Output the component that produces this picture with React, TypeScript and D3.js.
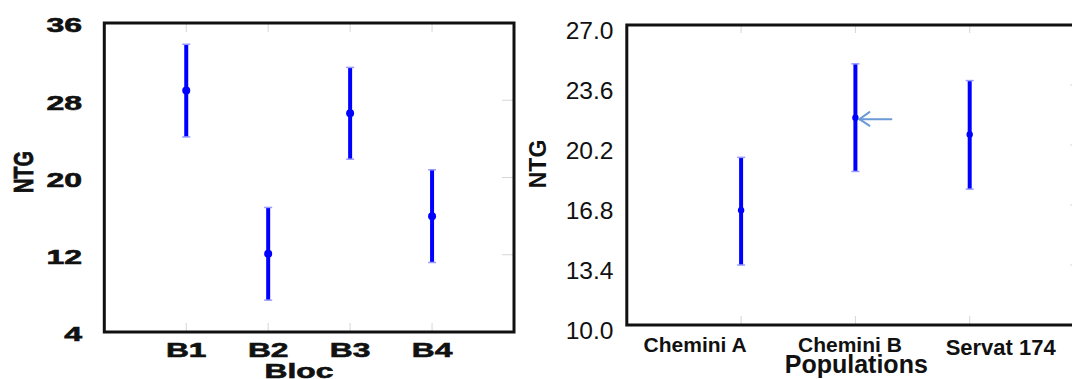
import React from "react";
import * as d3 from "d3";

// ---- data ----
const blocCategories = ["B1", "B2", "B3", "B4"];
const blocMeans = [29.0, 12.1, 26.65, 16.0];
const blocLower = [24.2, 7.3, 21.9, 11.2];
const blocUpper = [33.8, 16.9, 31.4, 20.8];
const blocTicks = [4, 12, 20, 28, 36];

const popCategories = ["Chemini A", "Chemini B", "Servat 174"];
const popMeans = [16.5, 21.75, 20.8];
const popLower = [13.4, 18.7, 17.7];
const popUpper = [19.5, 24.8, 23.85];
const popTicks = [10.0, 13.4, 16.8, 20.2, 23.6, 27.0];

// ---- layout ----
const W = 1072;
const H = 379;
const LB = { left: 104.3, right: 514, top: 23, bottom: 332 };
const RB = { left: 626.8, right: 1084, top: 25, bottom: 325 };
const popLabelDx = [-46, -5.5, 31];
const popLabelBase = [351.7, 351.7, 354.6];
const popLabelSize = [21, 21, 22];

const FONT = "'Liberation Sans', Arial, sans-serif";
const BLUE = "#0000ff";
const CAP = "#9a9aff";
const GRID = "#d6d6d6";
const INK = "#111";

export default function App() {
  const xL = d3.scaleLinear().domain([0, 5]).range([LB.left, LB.right]);
  const yL = d3.scaleLinear().domain([4, 36]).range([LB.bottom, LB.top]);
  const xR = d3.scaleLinear().domain([0, 4]).range([RB.left, RB.right]);
  const yR = d3.scaleLinear().domain([10, 27]).range([RB.bottom, RB.top]);
  const fmt = d3.format(".1f");

  const ax = xR(2);
  const ay = yR(popMeans[1]) + 1.5;

  const heavy = { stroke: INK, strokeWidth: 0.6 };

  return (
    <svg
      width={W}
      height={H}
      style={{ position: "absolute", left: 0, top: 0, background: "#fff" }}
      fontFamily={FONT}
    >
      <rect x={0} y={0} width={W} height={H} fill="#fff" />

      {/* ===== Left panel ===== */}
      {blocCategories.map((c, i) => (
        <g key={"lt" + c}>
          <line x1={xL(i + 1)} x2={xL(i + 1)} y1={LB.top} y2={LB.top + 9} stroke={GRID} strokeWidth={1} />
          <line x1={xL(i + 1)} x2={xL(i + 1)} y1={LB.bottom - 9} y2={LB.bottom} stroke={GRID} strokeWidth={1} />
        </g>
      ))}
      {blocTicks.slice(1, -1).map((t) => (
        <line key={"lr" + t} x1={LB.right - 12} x2={LB.right} y1={yL(t)} y2={yL(t)} stroke={GRID} strokeWidth={1} />
      ))}
      <rect
        x={LB.left}
        y={LB.top}
        width={LB.right - LB.left}
        height={LB.bottom - LB.top}
        fill="none"
        stroke={INK}
        strokeWidth={3}
      />
      {blocTicks.map((t) => (
        <text
          key={"lyt" + t}
          transform={`translate(82,${yL(t) + 9.3}) scale(1.6,1)`}
          textAnchor="end"
          fontSize={20}
          fontWeight="bold"
          fill={INK}
          {...heavy}
        >
          {t}
        </text>
      ))}
      {blocCategories.map((c, i) => (
        <text
          key={"lxt" + c}
          transform={`translate(${xL(i + 1)},357.3) scale(1.55,1)`}
          textAnchor="middle"
          fontSize={20.5}
          fontWeight="bold"
          fill={INK}
          {...heavy}
        >
          {c}
        </text>
      ))}
      <text
        transform={`translate(299,377.8) scale(1.55,1)`}
        textAnchor="middle"
        fontSize={20.5}
        fontWeight="bold"
        fill={INK}
        {...heavy}
      >
        Bloc
      </text>
      <text
        transform={`translate(24,172) scale(1.35,1) rotate(-90)`}
        y={7}
        textAnchor="middle"
        fontSize={20}
        fontWeight="bold"
        fill={INK}
        {...heavy}
      >
        NTG
      </text>
      {blocCategories.map((c, i) => {
        const x = xL(i + 1);
        return (
          <g key={"lb" + c}>
            <line x1={x} x2={x} y1={yL(blocLower[i])} y2={yL(blocUpper[i])} stroke={BLUE} strokeWidth={4} />
            <line x1={x - 4} x2={x + 4} y1={yL(blocUpper[i])} y2={yL(blocUpper[i])} stroke={CAP} strokeWidth={1.5} />
            <line x1={x - 4} x2={x + 4} y1={yL(blocLower[i])} y2={yL(blocLower[i])} stroke={CAP} strokeWidth={1.5} />
            <circle cx={x} cy={yL(blocMeans[i])} r={4} fill={BLUE} />
          </g>
        );
      })}

      {/* ===== Right panel ===== */}
      {popCategories.map((c, i) => (
        <g key={"rt" + c}>
          <line x1={xR(i + 1)} x2={xR(i + 1)} y1={RB.top} y2={RB.top + 8} stroke={GRID} strokeWidth={1} />
          <line x1={xR(i + 1)} x2={xR(i + 1)} y1={RB.bottom - 9} y2={RB.bottom} stroke={GRID} strokeWidth={1} />
        </g>
      ))}
      {popTicks.slice(1, -1).map((t) => (
        <line key={"rr" + t} x1={RB.right - 14} x2={RB.right} y1={yR(t)} y2={yR(t)} stroke={GRID} strokeWidth={1} />
      ))}
      <rect
        x={RB.left}
        y={RB.top}
        width={RB.right - RB.left}
        height={RB.bottom - RB.top}
        fill="none"
        stroke={INK}
        strokeWidth={3}
      />
      {popTicks.map((t) => (
        <text
          key={"ryt" + t}
          transform={`translate(613.5,${yR(t) + 14}) scale(1.07,1)`}
          textAnchor="end"
          fontSize={23}
          fill={INK}
        >
          {fmt(t)}
        </text>
      ))}
      {popCategories.map((c, i) => (
        <text
          key={"rxt" + c}
          x={xR(i + 1) + popLabelDx[i]}
          y={popLabelBase[i]}
          textAnchor="middle"
          fontSize={popLabelSize[i]}
          fontWeight="bold"
          fill={INK}
        >
          {c}
        </text>
      ))}
      <text x={856.3} y={373} textAnchor="middle" fontSize={25} fontWeight="bold" fill={INK}>
        Populations
      </text>
      <text
        transform={`translate(538,164) rotate(-90)`}
        y={8.2}
        textAnchor="middle"
        fontSize={23}
        fontWeight="bold"
        fill={INK}
      >
        NTG
      </text>
      {popCategories.map((c, i) => {
        const x = xR(i + 1);
        return (
          <g key={"rb" + c}>
            <line x1={x} x2={x} y1={yR(popLower[i])} y2={yR(popUpper[i])} stroke={BLUE} strokeWidth={4} />
            <line x1={x - 4} x2={x + 4} y1={yR(popUpper[i])} y2={yR(popUpper[i])} stroke={CAP} strokeWidth={1.5} />
            <line x1={x - 4} x2={x + 4} y1={yR(popLower[i])} y2={yR(popLower[i])} stroke={CAP} strokeWidth={1.5} />
            <circle cx={x} cy={yR(popMeans[i])} r={3.2} fill={BLUE} />
          </g>
        );
      })}
      {/* annotation arrow */}
      <g stroke="#6b9bd6" strokeWidth={2} fill="none" strokeLinecap="round">
        <line x1={ax + 4} x2={ax + 36} y1={ay} y2={ay} />
        <polyline points={`${ax + 14},${ay - 7} ${ax + 4},${ay} ${ax + 14},${ay + 6.5}`} />
      </g>
    </svg>
  );
}
